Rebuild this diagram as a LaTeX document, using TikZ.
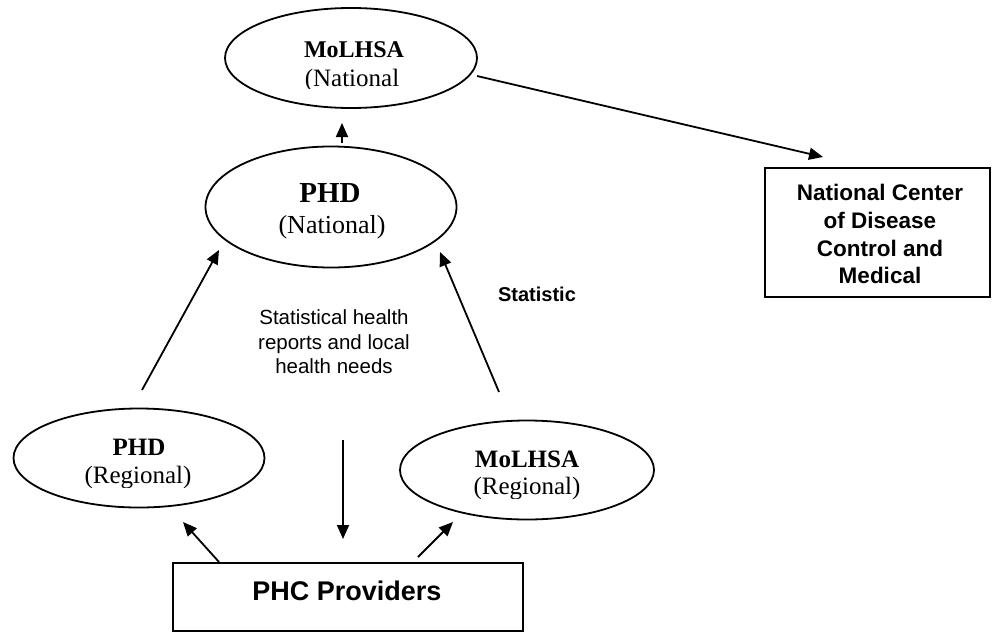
\documentclass[tikz,border=0pt]{standalone}
\usepackage{fontspec}
\setmainfont{Liberation Serif}
\setsansfont{Liberation Sans}
\usetikzlibrary{shapes.geometric,arrows.meta}
\begin{document}
\begin{tikzpicture}[x=1pt,y=-1pt,
  oval/.style={draw,ellipse,line width=1.8pt,inner sep=0pt},
  rbox/.style={draw,rectangle,line width=1.8pt,inner sep=0pt},
  arr/.style={line width=1.8pt,-{Triangle[length=14pt,width=12pt]}},
  rmb/.style={anchor=base,inner sep=0pt,font=\fontsize{#1}{#1}\selectfont\bfseries},
  rmn/.style={anchor=base,inner sep=0pt,font=\fontsize{#1}{#1}\selectfont},
  sfb/.style={anchor=base,inner sep=0pt,font=\fontsize{#1}{#1}\selectfont\sffamily\bfseries},
  sfn/.style={anchor=base,inner sep=0pt,font=\fontsize{#1}{#1}\selectfont\sffamily}
]
\useasboundingbox (0,0) rectangle (992,632);
% ellipses
\node[oval,minimum width=252pt,minimum height=100pt] (mn) at (351,58) {};
\node[oval,minimum width=251pt,minimum height=121pt] (pn) at (331,207) {};
\node[oval,minimum width=251pt,minimum height=99pt] (pr) at (139,458) {};
\node[oval,minimum width=254pt,minimum height=99pt] (mr) at (527,470) {};
% boxes
\node[rbox,minimum width=225pt,minimum height=129pt] (nc) at (877.5,232.5) {};
\node[rbox,minimum width=350pt,minimum height=68pt] (phc) at (348,597) {};
% texts in ellipses
\node[rmb=24] (mnt) at (354,57) {MoLHSA};
\begin{scope}
\clip (200,0) rectangle (500,88);
\node[rmn=25] (mns) at (352,86) {(National};
\end{scope}
\node[rmb=29] (pnt) at (330,202) {PHD};
\node[rmn=26] (pns) at (332,233) {(National)};
\node[rmb=25] (prt) at (139,455) {PHD};
\begin{scope}
\clip (0,400) rectangle (300,487);
\node[rmn=25] (prs) at (138,483) {(Regional)};
\end{scope}
\node[rmb=25] (mrt) at (527,467) {MoLHSA};
\begin{scope}
\clip (380,400) rectangle (700,498);
\node[rmn=25] (mrs) at (527,494) {(Regional)};
\end{scope}
% box texts
\node[sfb=22.5] (nc1) at (880,200) {National Center};
\node[sfb=22.5] (nc2) at (880,228) {of Disease};
\node[sfb=22.5] (nc3) at (880,256) {Control and};
\node[sfb=22.5] (nc4) at (880,283) {Medical};
\node[sfb=27] (phct) at (347,600) {PHC Providers};
% free labels
\node[sfb=20] (stat) at (537,301) {Statistic};
\node[sfn=20.5] (t1) at (334,324) {Statistical health};
\node[sfn=20.5] (t2) at (334,349) {reports and local};
\node[sfn=20.5] (t3) at (334,373) {health needs};
% connector end points
\coordinate (a1s) at (342,143); \coordinate (a1e) at (342,123);
\coordinate (a2s) at (477,76);  \coordinate (a2e) at (823,157);
\coordinate (a3s) at (142,390); \coordinate (a3e) at (219,250);
\coordinate (a4s) at (499,392); \coordinate (a4e) at (440,252);
\coordinate (a5s) at (343,440); \coordinate (a5e) at (343,539);
\coordinate (a6s) at (219,562); \coordinate (a6e) at (183,522);
\coordinate (a7s) at (418,557); \coordinate (a7e) at (453,522);
\draw[arr] (a1s) -- (a1e);
\draw[arr] (a2s) -- (a2e);
\draw[arr] (a3s) -- (a3e);
\draw[arr] (a4s) -- (a4e);
\draw[arr] (a5s) -- (a5e);
\draw[arr] (a6s) -- (a6e);
\draw[arr] (a7s) -- (a7e);
\end{tikzpicture}
\end{document}
